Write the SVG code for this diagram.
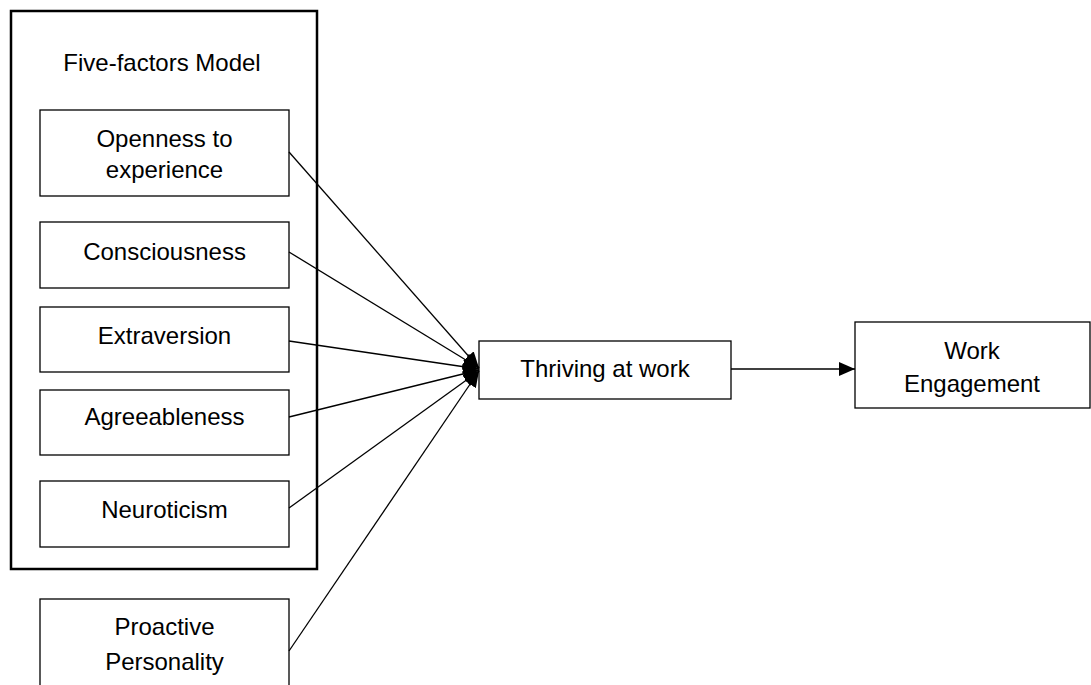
<svg xmlns="http://www.w3.org/2000/svg" width="1091" height="685" viewBox="0 0 1091 685">
<style>
.box{fill:#fff;stroke:#000;stroke-width:1.3}
.outer{fill:#fff;stroke:#000;stroke-width:2.5}
text{font-family:"Liberation Sans",Arial,sans-serif;font-size:24px;fill:#000;text-anchor:middle}
.c{stroke:#000;stroke-width:1.3;fill:none}
</style>
<defs>
<marker id="ah" markerWidth="16" markerHeight="14" refX="16" refY="7" orient="auto" markerUnits="userSpaceOnUse">
<path d="M0,0 L16,7 L0,14 Z" fill="#000"/>
</marker>
</defs>
<g id="five-factors">
<rect class="outer" x="11" y="11" width="306" height="558"/>
<text x="162" y="71">Five-factors Model</text>
</g>
<g id="openness">
<rect class="box" x="40" y="110" width="249" height="86"/>
<text x="164.5" y="147">Openness to</text>
<text x="164.5" y="178">experience</text>
</g>
<g id="consciousness">
<rect class="box" x="40" y="222" width="249" height="66"/>
<text x="164.5" y="260">Consciousness</text>
</g>
<g id="extraversion">
<rect class="box" x="40" y="307" width="249" height="65"/>
<text x="164.5" y="344">Extraversion</text>
</g>
<g id="agreeableness">
<rect class="box" x="40" y="390" width="249" height="65"/>
<text x="164.5" y="425">Agreeableness</text>
</g>
<g id="neuroticism">
<rect class="box" x="40" y="481" width="249" height="66"/>
<text x="164.5" y="518">Neuroticism</text>
</g>
<g id="proactive">
<rect class="box" x="40" y="599" width="249" height="100"/>
<text x="164.5" y="635">Proactive</text>
<text x="164.5" y="670">Personality</text>
</g>
<g id="thriving">
<rect class="box" x="479" y="341" width="252" height="58"/>
<text x="605" y="377">Thriving at work</text>
</g>
<g id="engagement">
<rect class="box" x="855" y="322" width="235" height="86"/>
<text x="972" y="359">Work</text>
<text x="972" y="392">Engagement</text>
</g>
<g id="connectors">
<line class="c" x1="289" y1="152" x2="479" y2="368" marker-end="url(#ah)"/>
<line class="c" x1="289" y1="252" x2="479" y2="368" marker-end="url(#ah)"/>
<line class="c" x1="289" y1="341" x2="479" y2="369" marker-end="url(#ah)"/>
<line class="c" x1="289" y1="417" x2="479" y2="370" marker-end="url(#ah)"/>
<line class="c" x1="289" y1="508" x2="479" y2="371" marker-end="url(#ah)"/>
<line class="c" x1="289" y1="651" x2="479" y2="371" marker-end="url(#ah)"/>
<line class="c" x1="731" y1="369" x2="855" y2="369" marker-end="url(#ah)"/>
</g>
</svg>
